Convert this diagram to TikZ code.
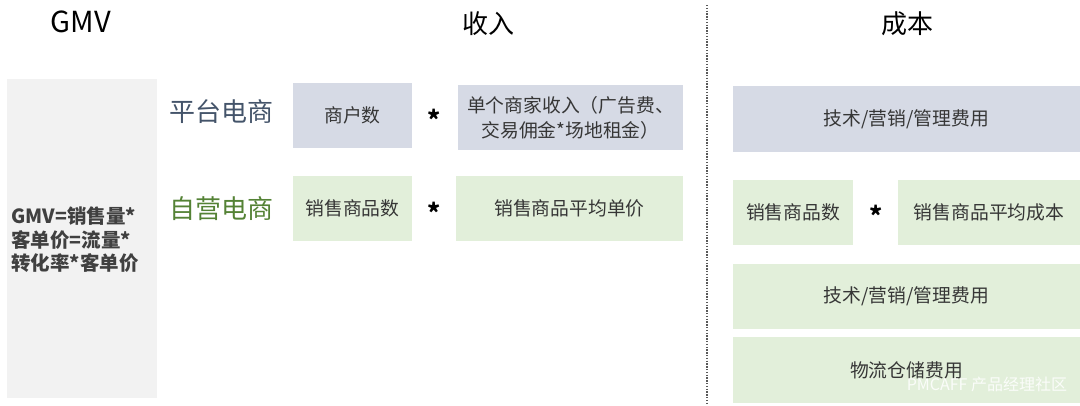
\documentclass[tikz,border=0pt]{standalone}
\usepackage{fontspec}
\setmainfont{Noto Sans CJK SC}
\definecolor{bluebox}{HTML}{D6DAE5}
\definecolor{greenbox}{HTML}{E2EFDA}
\definecolor{graybox}{HTML}{F2F2F2}
\definecolor{boxtext}{HTML}{363636}
\definecolor{slate}{HTML}{44546A}
\definecolor{darkgreen}{HTML}{548235}
\tikzset{
  box/.style={inner sep=0pt, align=center, text=boxtext, font=\fontsize{18.8}{25}\selectfont},
  bbox/.style={box, fill=bluebox},
  gbox/.style={box, fill=greenbox},
  title/.style={font=\fontsize{26}{30}\selectfont, text=black},
  star/.style={font=\bfseries\fontsize{25}{25}\selectfont, text=black, inner sep=0pt},
  cat/.style={font=\fontsize{26}{30}\selectfont, inner sep=0pt},
}
\begin{document}
\begin{tikzpicture}[x=1pt,y=-1pt]
\useasboundingbox (0,0) rectangle (1080,405);
% titles
\node[title, font=\fontsize{29}{30}\selectfont] (tgmv) at (81,22) {GMV};
\node[title] (tin) at (488,24) {收入};
\node[title] (tcost) at (907,24) {成本};
% divider
\coordinate (dtop) at (707,5);
\coordinate (dbot) at (707,405);
\draw[line width=1.6pt, dash pattern=on 1.4pt off 1.4pt, color=black!65] (dtop) -- (dbot);
% left gray box
\node[fill=graybox, minimum width=150pt, minimum height=319pt, inner sep=0pt] (gmvbox) at (82,238.5) {};
\node[anchor=west, align=left, inner sep=0pt, text=black!75, font=\bfseries\fontsize{19.5}{23.5}\selectfont] (gmvtext) at (11,240) {GMV=销售量*\\客单价=流量*\\转化率*客单价};
% category labels
\node[cat, text=slate] (plat) at (221,112) {平台电商};
\node[cat, text=darkgreen] (self) at (221,209) {自营电商};
% revenue boxes
\node[bbox, minimum width=119pt, minimum height=65pt] (b1) at (352.5,115.5) {商户数};
\node[star] (s1) at (434,119) {*};
\node[bbox, minimum width=225pt, minimum height=65pt] (b2) at (570.5,117.5) {单个商家收入（广告费、\\交易佣金*场地租金）};
\node[gbox, minimum width=119pt, minimum height=65pt] (g1) at (352.5,208.5) {销售商品数};
\node[star] (s2) at (434,212) {*};
\node[gbox, minimum width=227pt, minimum height=65pt] (g2) at (569.5,208.5) {销售商品平均单价};
% cost boxes
\node[bbox, minimum width=347pt, minimum height=66pt] (r1) at (906.5,119) {技术/营销/管理费用};
\node[gbox, minimum width=120pt, minimum height=65pt] (r2) at (793,212.5) {销售商品数};
\node[star] (s3) at (876,215) {*};
\node[gbox, minimum width=182pt, minimum height=65pt] (r3) at (989,212.5) {销售商品平均成本};
\node[gbox, minimum width=347pt, minimum height=65pt] (r4) at (906.5,296.5) {技术/营销/管理费用};
\node[gbox, minimum width=347pt, minimum height=66pt] (r5) at (906.5,370) {物流仓储费用};
% watermark
\node[text=white, opacity=0.85, font=\fontsize{16}{18}\selectfont, inner sep=0pt] (wm) at (987,384) {PMCAFF 产品经理社区};
\end{tikzpicture}
\end{document}
